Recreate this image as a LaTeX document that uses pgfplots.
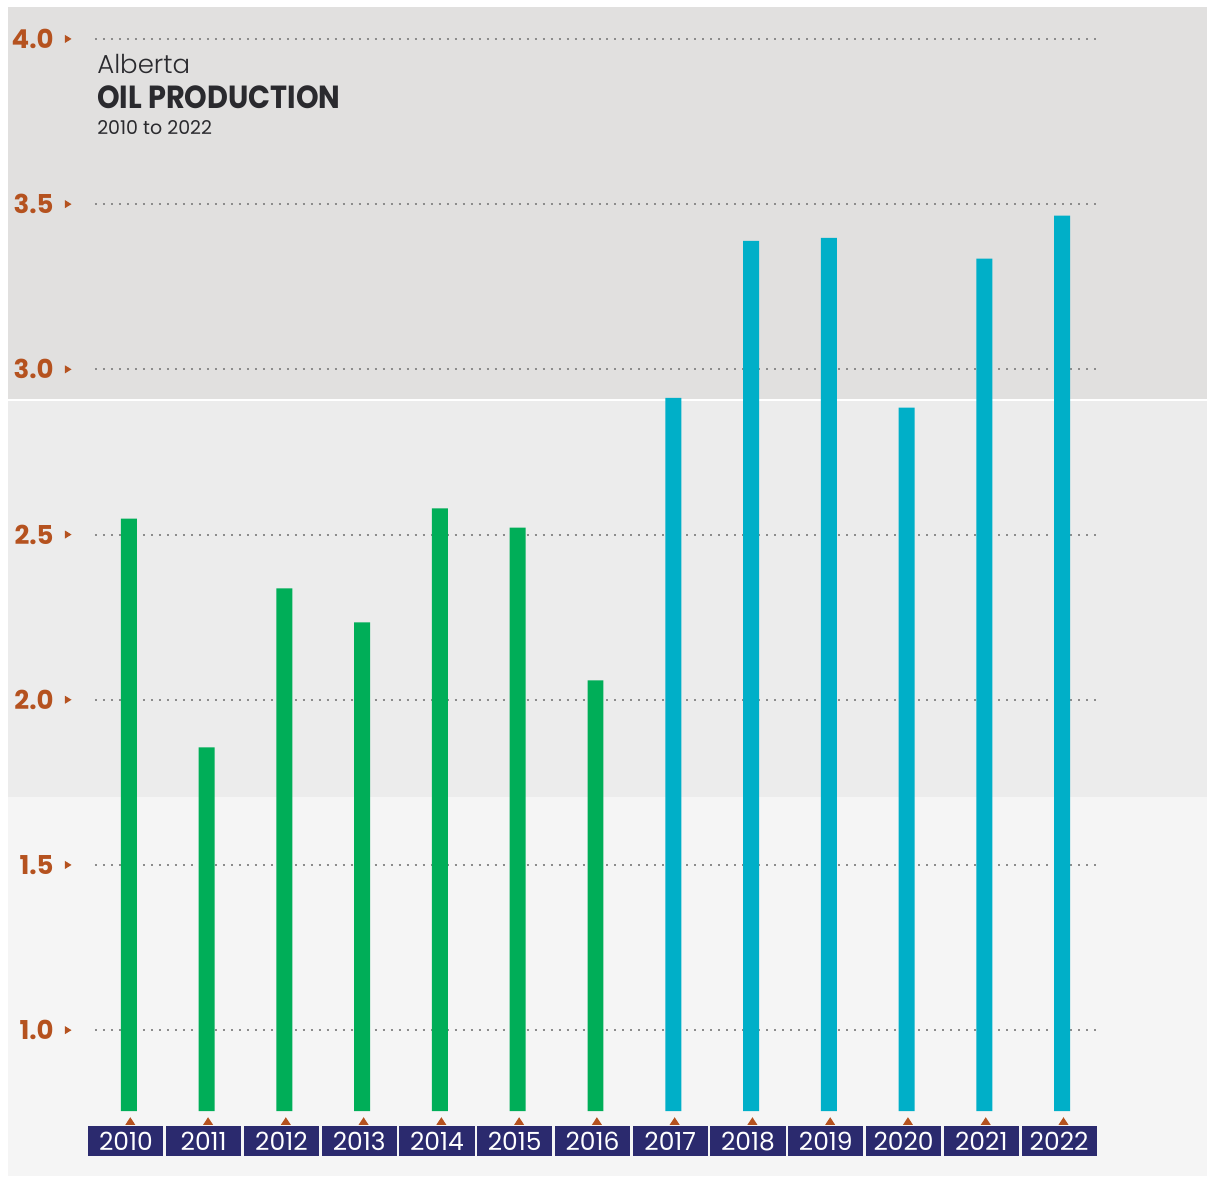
\documentclass[border=0pt]{standalone}
\usepackage{pgfplots}
\pgfplotsset{compat=1.18}
\usepackage{fontspec}
\setmainfont{Poppins}
\newfontfamily\plight{Poppins Light}
\newfontfamily\tfont{Poppins}[FakeStretch=0.9]
\definecolor{bgtop}{HTML}{E1E0DF}
\definecolor{bgmid}{HTML}{ECECEC}
\definecolor{bgbot}{HTML}{F5F5F5}
\definecolor{barg}{HTML}{00AE58}
\definecolor{barb}{HTML}{00AFC8}
\definecolor{navy}{HTML}{2B2A6E}
\definecolor{rust}{HTML}{B5521F}
\definecolor{ink}{HTML}{2A2A2E}
\definecolor{dotc}{HTML}{8C8C8C}
\begin{document}
\begin{tikzpicture}
\begin{axis}[
  set layers=standard,
  scale only axis, width=600pt, height=552.5pt,
  xmin=-1.5547, xmax=13.8635, ymin=0.7551, ymax=4.0968,
  clip mode=individual,
  axis line style={draw=none}, major tick length=0pt,
  ytick={1,1.5,2,2.5,3,3.5,4},
  /pgf/number format/assume math mode=true,
  yticklabel={\pgfmathprintnumber[fixed,fixed zerofill,precision=1]{\tick}},
  yticklabel style={anchor=east, inner sep=0pt, xshift=23pt, text=rust,
    font=\bfseries\fontsize{13}{13}\selectfont},
  xtick={0,...,12},
  xticklabels={2010,2011,2012,2013,2014,2015,2016,2017,2018,2019,2020,2021,2022},
  xticklabel style={anchor=north, inner sep=0pt, yshift=-7.5pt, xshift=-1.5pt,
    fill=navy, text=white, minimum width=37.6pt, minimum height=15pt,
    font=\fontsize{12.5}{12.5}\selectfont},
]
\begin{pgfonlayer}{axis background}
\fill[white] (axis cs:-1.6575,0.5555) rectangle (axis cs:13.8635,4.1179);
\fill[bgtop] (axis cs:-1.5547,2.9083) rectangle (axis cs:13.8635,4.0968);
\fill[bgmid] (axis cs:-1.5547,1.7062) rectangle (axis cs:13.8635,2.9083);
\fill[bgbot] (axis cs:-1.5547,0.5586) rectangle (axis cs:13.8635,1.7062);
\draw[white, line width=1pt] (axis cs:-1.5547,2.9083) -- (axis cs:13.8635,2.9083);
\end{pgfonlayer}
\begin{pgfonlayer}{axis grid}
\pgfplotsinvokeforeach{1,1.5,2,2.5,3,3.5,4}{
  \draw[dotc, line width=1pt, dash pattern=on 1pt off 3pt] (axis cs:-0.437,#1) -- (axis cs:12.437,#1);
  \fill[rust] ([yshift=2pt]axis cs:-0.8223,#1) -- ([xshift=3.3pt]axis cs:-0.8223,#1) -- ([yshift=-2pt]axis cs:-0.8223,#1) -- cycle;
}
\pgfplotsinvokeforeach{0,...,12}{
  \fill[rust] ([xshift=-1.8pt,yshift=-1.9pt]axis cs:#1,0.7249) -- ([xshift=3.2pt,yshift=-1.9pt]axis cs:#1,0.7249) -- ([xshift=0.7pt,yshift=1.9pt]axis cs:#1,0.7249) -- cycle;
}
\end{pgfonlayer}
\addplot[ybar, bar width=8pt, bar shift=0pt, fill=barg, draw=none] coordinates {
  (0,2.548) (1,1.856) (2,2.337) (3,2.234) (4,2.579) (5,2.521) (6,2.059)
};
\addplot[ybar, bar width=8pt, bar shift=0pt, fill=barb, draw=none] coordinates {
  (7,2.914) (8,3.389) (9,3.398) (10,2.884) (11,3.335) (12,3.465)
};
\node[anchor=base west, inner sep=0pt, text=ink, font=\plight\fontsize{13}{13}\selectfont] at (axis cs:-0.4111,3.8942) {Alberta};
\node[anchor=base west, inner sep=0pt, text=ink, font=\tfont\bfseries\fontsize{16}{16}\selectfont] at (axis cs:-0.4111,3.7883) {OIL PRODUCTION};
\node[anchor=base west, inner sep=0pt, text=ink, font=\fontsize{9.5}{9.5}\selectfont] at (axis cs:-0.4111,3.7097) {2010 to 2022};
\end{axis}
\end{tikzpicture}
\end{document}
